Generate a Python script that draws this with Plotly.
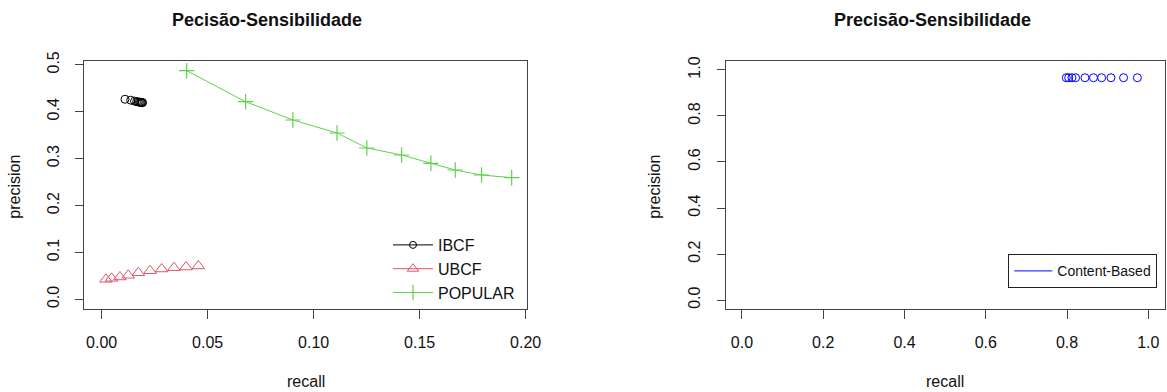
import plotly.graph_objects as go

# ---- data ----
ibcf_recall = [0.0110, 0.0137, 0.0155, 0.0165, 0.0172, 0.0178, 0.0183, 0.0187, 0.0190, 0.0193]
ibcf_precision = [0.4265, 0.4245, 0.4225, 0.4215, 0.4208, 0.4203, 0.4200, 0.4197, 0.4195, 0.4193]

ubcf_recall = [0.0020, 0.0047, 0.0086, 0.0125, 0.0173, 0.0228, 0.0283, 0.0341, 0.0398, 0.0456]
ubcf_precision = [0.0426, 0.0448, 0.0476, 0.0512, 0.0567, 0.0610, 0.0646, 0.0674, 0.0689, 0.0711]

popular_recall = [0.0401, 0.0679, 0.0902, 0.1110, 0.1251, 0.1415, 0.1553, 0.1668, 0.1792, 0.1934]
popular_precision = [0.4874, 0.4213, 0.3823, 0.3546, 0.3226, 0.3077, 0.2900, 0.2757, 0.2650, 0.2593]

cb_recall = [0.798, 0.804, 0.812, 0.821, 0.844, 0.865, 0.885, 0.908, 0.939, 0.973]
cb_precision = [0.966, 0.966, 0.966, 0.966, 0.966, 0.966, 0.966, 0.966, 0.966, 0.966]

left_x_ticks = [0.00, 0.05, 0.10, 0.15, 0.20]
left_x_labels = ["0.00", "0.05", "0.10", "0.15", "0.20"]
left_y_ticks = [0.0, 0.1, 0.2, 0.3, 0.4, 0.5]
left_y_labels = ["0.0", "0.1", "0.2", "0.3", "0.4", "0.5"]
right_ticks = [0.0, 0.2, 0.4, 0.6, 0.8, 1.0]
right_labels = ["0.0", "0.2", "0.4", "0.6", "0.8", "1.0"]

title_left = "Pecisão-Sensibilidade"
title_right = "Precisão-Sensibilidade"

FONT = "Liberation Sans, Arial, sans-serif"
W, H = 1167, 392
AX = "#444444"
BLACK = "black"
RED = "#DF536B"
GREEN = "#61D04F"
BLUE = "#0000FF"

fig = go.Figure()

# plotted marks (R type "b": connecting lines vanish between very close points)
fig.add_trace(go.Scatter(
    x=ibcf_recall, y=ibcf_precision, mode="markers", name="IBCF",
    marker=dict(symbol="circle-open", size=8, color=BLACK, line=dict(width=1)),
    xaxis="x", yaxis="y", showlegend=False))
fig.add_trace(go.Scatter(
    x=ubcf_recall, y=ubcf_precision, mode="markers", name="UBCF",
    marker=dict(symbol="triangle-up-open", size=11, color=RED, line=dict(width=1)),
    xaxis="x", yaxis="y", showlegend=False))
fig.add_trace(go.Scatter(
    x=popular_recall, y=popular_precision, mode="lines+markers", name="POPULAR",
    line=dict(color=GREEN, width=1),
    marker=dict(symbol="cross-thin-open", size=11, color=GREEN, line=dict(width=1.2)),
    xaxis="x", yaxis="y", showlegend=False))

# legend keys (left panel)
fig.add_trace(go.Scatter(
    x=[None], y=[None], mode="lines+markers", name="IBCF",
    line=dict(color=BLACK, width=1),
    marker=dict(symbol="circle-open", size=7, color=BLACK, line=dict(width=1)),
    xaxis="x", yaxis="y", legend="legend"))
fig.add_trace(go.Scatter(
    x=[None], y=[None], mode="lines+markers", name="UBCF",
    line=dict(color=RED, width=1),
    marker=dict(symbol="triangle-up-open", size=10, color=RED, line=dict(width=1)),
    xaxis="x", yaxis="y", legend="legend"))
fig.add_trace(go.Scatter(
    x=[None], y=[None], mode="lines+markers", name="POPULAR",
    line=dict(color=GREEN, width=1),
    marker=dict(symbol="cross-thin-open", size=11, color=GREEN, line=dict(width=1.2)),
    xaxis="x", yaxis="y", legend="legend"))

fig.add_trace(go.Scatter(
    x=cb_recall, y=cb_precision, mode="markers", name="Content-Based",
    marker=dict(symbol="circle-open", size=8, color=BLUE, line=dict(width=1)),
    xaxis="x2", yaxis="y2", showlegend=False))
# legend key for the right panel (line only, as in the reference)
fig.add_trace(go.Scatter(
    x=[None], y=[None], mode="lines", name="Content-Based",
    line=dict(color=BLUE, width=1),
    xaxis="x2", yaxis="y2", legend="legend2"))


def px_x(p):
    return p / W


def px_y(p):
    return 1 - p / H


axis_common = dict(
    showline=True, mirror=True, linecolor=AX, linewidth=1,
    ticks="outside", tickcolor=AX, tickwidth=1,
    showgrid=False, zeroline=False, automargin=False,
    tickfont=dict(family=FONT, size=16, color="#111111"),
)

ydom = [px_y(309.3), px_y(60.7)]

fig.update_layout(
    width=W, height=H, autosize=False,
    margin=dict(l=0, r=0, t=0, b=0, pad=0, autoexpand=False),
    paper_bgcolor="white", plot_bgcolor="white",
    font=dict(family=FONT, color="#111111"),
    xaxis=dict(domain=[px_x(84.3), px_x(526.7)], range=[-0.0082, 0.2005],
               tickvals=left_x_ticks, ticktext=left_x_labels, anchor="y",
               ticklen=9, ticklabelstandoff=9, **axis_common),
    yaxis=dict(domain=ydom, range=[-0.0213, 0.5087],
               tickvals=left_y_ticks, ticktext=left_y_labels, anchor="x",
               ticklen=8, tickangle=-90, ticklabelstandoff=10, **axis_common),
    xaxis2=dict(domain=[px_x(725.7), px_x(1164.6)], range=[-0.04, 1.04],
                tickvals=right_ticks, ticktext=right_labels, anchor="y2",
                ticklen=9, ticklabelstandoff=9, **axis_common),
    yaxis2=dict(domain=ydom, range=[-0.04, 1.04],
                tickvals=right_ticks, ticktext=right_labels, anchor="x2",
                ticklen=8, tickangle=-90, ticklabelstandoff=10, **axis_common),
    legend=dict(x=px_x(388), y=px_y(228), xanchor="left", yanchor="top",
                bgcolor="rgba(0,0,0,0)", borderwidth=0, itemwidth=40,
                font=dict(family=FONT, size=16, color="#111111"),
                traceorder="normal"),
    legend2=dict(x=px_x(1008.3), y=px_y(254.3), xanchor="left", yanchor="top",
                 bgcolor="white", bordercolor="#222222", borderwidth=1, itemwidth=38,
                 font=dict(family=FONT, size=14, color="#111111")),
    showlegend=True,
)

annotations = [
    dict(text="<b>" + title_left + "</b>", x=px_x(267), y=px_y(20)),
    dict(text="<b>" + title_right + "</b>", x=px_x(932), y=px_y(20)),
    dict(text="recall", x=px_x(306.3), y=px_y(381.7)),
    dict(text="recall", x=px_x(944.5), y=px_y(381.7)),
    dict(text="precision", x=px_x(15), y=px_y(186.7), textangle=-90),
    dict(text="precision", x=px_x(655), y=px_y(186.7), textangle=-90),
]
for a in annotations:
    size = 18 if a["text"].startswith("<b>") else 16
    fig.add_annotation(xref="paper", yref="paper", xanchor="center", yanchor="middle",
                       showarrow=False, font=dict(family=FONT, size=size, color="#111111"),
                       **a)

POST = (
    "document.body.style.margin='0';document.body.style.padding='0';"
    "document.body.style.overflow='hidden';"
)

fig.write_html("out.html", config={"displayModeBar": False}, post_script=POST)
